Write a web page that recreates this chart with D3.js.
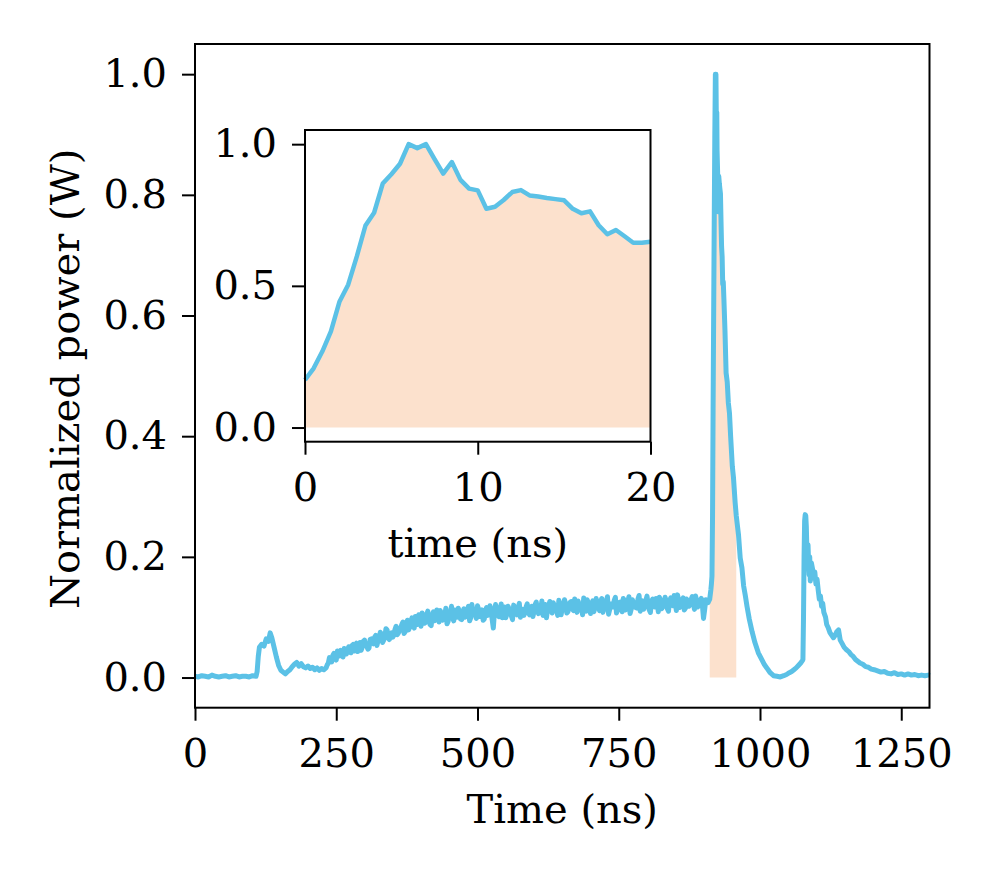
<!DOCTYPE html>
<html>
<head>
<meta charset="utf-8">
<script src="https://cdn.jsdelivr.net/npm/d3@7"></script>
<style>
  body { margin: 0; background: #fff; }
  text { font-family: "DejaVu Serif", serif; }
</style>
</head>
<body>
<svg id="chart" width="996" height="879"></svg>
<script>
// ---- data (time in ns, power normalized) ----
var baseStart = 0, baseStep = 6;
var basePower = [0.002, 0.001, 0.003, 0.002, 0.001, 0.004, 0.002, 0.001, 0.002, 0.003,
  0.001, 0.002, 0.003, 0.001, 0.002, 0.002, 0.001, 0.003, 0.002];

var pulseTime = [110, 112, 114, 118, 122, 126, 130, 133, 136, 140, 144, 148, 152, 156, 160,
  164, 168, 172, 176, 180, 184, 188, 192, 196, 200, 204, 208, 212, 216, 220, 224, 228];
var pulsePower = [0.010, 0.035, 0.050, 0.055, 0.052, 0.064, 0.060, 0.074, 0.066, 0.050, 0.034,
  0.020, 0.012, 0.009, 0.006, 0.010, 0.013, 0.018, 0.022, 0.025, 0.019, 0.023, 0.018, 0.016,
  0.019, 0.015, 0.017, 0.013, 0.016, 0.012, 0.015, 0.013];

// slow ramp + noisy plateau, two interleaved sample sets (every 4 ns, offset by 2 ns)
var rampStart = 232, rampStep = 4;
var rampPower = [
  0.016, 0.024, 0.028, 0.037, 0.031, 0.044, 0.036, 0.042, 0.048, 0.039,
  0.051, 0.041, 0.055, 0.047, 0.043, 0.058, 0.050, 0.062, 0.052, 0.049,
  0.064, 0.056, 0.070, 0.061, 0.075, 0.058, 0.068, 0.079, 0.063, 0.074,
  0.070, 0.085, 0.074, 0.081, 0.092, 0.076, 0.095, 0.083, 0.099, 0.082,
  0.094, 0.104, 0.085, 0.100, 0.091, 0.110, 0.088, 0.103, 0.094, 0.112,
  0.092, 0.107, 0.099, 0.115, 0.093, 0.106, 0.098, 0.112, 0.100, 0.109,
  0.096, 0.114, 0.103, 0.118, 0.099, 0.110, 0.104, 0.119, 0.101, 0.112,
  0.097, 0.116, 0.106, 0.113, 0.082, 0.121, 0.104, 0.111, 0.099, 0.117,
  0.105, 0.114, 0.102, 0.120, 0.108, 0.116, 0.100, 0.113, 0.107, 0.122,
  0.104, 0.118, 0.109, 0.125, 0.106, 0.114, 0.103, 0.121, 0.112, 0.126,
  0.107, 0.119, 0.111, 0.128, 0.104, 0.117, 0.122, 0.109, 0.125, 0.113,
  0.130, 0.108, 0.121, 0.115, 0.132, 0.110, 0.124, 0.106, 0.127, 0.117,
  0.123, 0.111, 0.131, 0.114, 0.126, 0.105, 0.122, 0.117, 0.133, 0.112,
  0.125, 0.109, 0.128, 0.119, 0.134, 0.113, 0.124, 0.116, 0.130, 0.110,
  0.127, 0.118, 0.135, 0.112, 0.126, 0.121, 0.131, 0.109, 0.128, 0.117,
  0.133, 0.114, 0.127, 0.120, 0.136, 0.111, 0.129, 0.119, 0.132, 0.115,
  0.128, 0.121, 0.134, 0.113, 0.127, 0.122, 0.131, 0.098, 0.129, 0.124];
var rampStartB = 234;
var rampPowerB = [
  0.021, 0.033, 0.026, 0.040, 0.029, 0.038, 0.045, 0.034, 0.047, 0.043,
  0.046, 0.053, 0.044, 0.057, 0.051, 0.045, 0.060, 0.054, 0.047, 0.063,
  0.058, 0.067, 0.053, 0.066, 0.072, 0.062, 0.081, 0.065, 0.071, 0.067,
  0.080, 0.071, 0.078, 0.088, 0.073, 0.089, 0.079, 0.092, 0.086, 0.101,
  0.088, 0.096, 0.107, 0.090, 0.104, 0.097, 0.086, 0.109, 0.099, 0.105,
  0.111, 0.095, 0.102, 0.089, 0.108, 0.118, 0.094, 0.106, 0.115, 0.097,
  0.109, 0.100, 0.112, 0.094, 0.121, 0.106, 0.098, 0.113, 0.108, 0.095,
  0.111, 0.103, 0.119, 0.096, 0.108, 0.114, 0.101, 0.122, 0.106, 0.099,
  0.118, 0.107, 0.096, 0.115, 0.104, 0.123, 0.110, 0.103, 0.117, 0.108,
  0.113, 0.101, 0.121, 0.110, 0.116, 0.127, 0.108, 0.099, 0.119, 0.114,
  0.124, 0.112, 0.103, 0.121, 0.115, 0.129, 0.107, 0.118, 0.126, 0.111,
  0.118, 0.127, 0.112, 0.104, 0.122, 0.129, 0.115, 0.120, 0.109, 0.131,
  0.116, 0.126, 0.108, 0.121, 0.134, 0.113, 0.119, 0.128, 0.107, 0.124,
  0.118, 0.131, 0.112, 0.125, 0.106, 0.129, 0.121, 0.115, 0.136, 0.119,
  0.113, 0.128, 0.122, 0.108, 0.130, 0.117, 0.125, 0.133, 0.114, 0.121,
  0.127, 0.110, 0.132, 0.119, 0.124, 0.137, 0.116, 0.126, 0.112, 0.130,
  0.118, 0.129, 0.123, 0.135, 0.117, 0.128, 0.120, 0.112, 0.126];

var peakTime = [911, 913, 914, 915, 916, 917, 918, 919, 920, 921, 922, 923, 923.5, 924, 925,
  925.5, 926, 927, 928, 929, 930, 931, 932, 933, 934, 935, 936, 938, 940, 942, 944, 946, 948,
  951, 953, 956, 958, 960, 962, 965, 968, 971, 974, 977, 981, 986, 991, 997, 1003, 1008, 1012,
  1018, 1024, 1030, 1036, 1042, 1047, 1052, 1056, 1060, 1064, 1068, 1072, 1075];
var peakPower = [0.130, 0.145, 0.155, 0.168, 0.268, 0.445, 0.604, 0.758, 0.894, 1.000, 1.000,
  0.896, 0.937, 0.874, 0.837, 0.772, 0.779, 0.831, 0.819, 0.810, 0.802, 0.756, 0.714, 0.697,
  0.652, 0.656, 0.630, 0.575, 0.505, 0.490, 0.455, 0.438, 0.400, 0.350, 0.332, 0.290, 0.268,
  0.252, 0.236, 0.198, 0.182, 0.152, 0.136, 0.118, 0.097, 0.076, 0.058, 0.041, 0.030, 0.021,
  0.016, 0.008, 0.003, 0.002, 0.001, 0.003, 0.005, 0.008, 0.010, 0.013, 0.016, 0.020, 0.024, 0.028];

var tailTime = [1076, 1077, 1078, 1079, 1080, 1081, 1082, 1083, 1085, 1086, 1087, 1088, 1089,
  1091, 1093, 1095, 1097, 1099, 1101, 1103, 1105, 1107, 1109, 1111, 1113, 1116, 1118, 1121,
  1124, 1127, 1130, 1133, 1136, 1139, 1142, 1145, 1149, 1153, 1157, 1161, 1165, 1169, 1173,
  1177, 1182, 1187, 1192, 1197, 1202, 1208, 1214, 1220, 1226, 1232, 1238, 1244, 1250, 1256,
  1262, 1268, 1274, 1280, 1286, 1292, 1298, 1300];
var tailPower = [0.030, 0.100, 0.200, 0.260, 0.270, 0.268, 0.250, 0.210, 0.220, 0.190, 0.170,
  0.200, 0.160, 0.190, 0.180, 0.165, 0.175, 0.155, 0.163, 0.145, 0.130, 0.135, 0.118, 0.123,
  0.108, 0.100, 0.088, 0.082, 0.074, 0.070, 0.066, 0.070, 0.076, 0.079, 0.062, 0.057, 0.050,
  0.046, 0.043, 0.038, 0.035, 0.030, 0.027, 0.024, 0.022, 0.018, 0.017, 0.014, 0.013, 0.011,
  0.009, 0.010, 0.007, 0.006, 0.008, 0.005, 0.006, 0.004, 0.006, 0.004, 0.005, 0.003, 0.004,
  0.003, 0.004, 0.003];

// zoom on the main pulse (inset), 0.5 ns samples
var insetTime = d3.range(0, 20.001, 0.5);
var insetPower = [0.168, 0.209, 0.268, 0.339, 0.445, 0.504, 0.604, 0.713, 0.758, 0.861, 0.894,
  0.931, 1.000, 0.986, 1.000, 0.947, 0.896, 0.937, 0.874, 0.843, 0.837, 0.772, 0.779, 0.803,
  0.831, 0.838, 0.819, 0.815, 0.810, 0.806, 0.802, 0.772, 0.756, 0.763, 0.714, 0.682, 0.697,
  0.675, 0.652, 0.652, 0.656];

var fillStart = 911, fillEnd = 958;
var xTicks = [0, 250, 500, 750, 1000, 1250];
var yTicks = [0.0, 0.2, 0.4, 0.6, 0.8, 1.0];
var insetXTicks = [0, 10, 20];
var insetYTicks = [0.0, 0.5, 1.0];

var lineColor = "#5bc1e6", fillColor = "#fce1cd";

// assemble trace
var trace = [];
basePower.forEach(function(v, i){ trace.push([baseStart + i * baseStep, v]) });
pulseTime.forEach(function(t, i){ trace.push([t, pulsePower[i]]) });
rampPower.forEach(function(v, i){ trace.push([rampStart + i * rampStep, v]) });
rampPowerB.forEach(function(v, i){ trace.push([rampStartB + i * rampStep, v]) });
peakTime.forEach(function(t, i){ trace.push([t, peakPower[i]]) });
tailTime.forEach(function(t, i){ trace.push([t, tailPower[i]]) });
trace.sort(function(a, b){ return a[0] - b[0] });
var inset = insetTime.map(function(t, i){ return [t, insetPower[i]] });

var svg = d3.select("#chart");
var fontSize = 40;

// ---- main axes ----
var m = {left: 195, right: 929.5, top: 44, bottom: 707.7};
var x = d3.scaleLinear().domain([0, 1300]).range([m.left, m.right]);
var y = d3.scaleLinear().domain([-0.05, 1.05]).range([m.bottom, m.top]);

var main = svg.append("g");
main.append("path")
  .datum(trace.filter(function(d){ return d[0] >= fillStart && d[0] <= fillEnd }))
  .attr("fill", fillColor)
  .attr("d", d3.area().x(function(d){ return x(d[0]) }).y0(y(0)).y1(function(d){ return y(d[1]) }));

main.append("path")
  .datum(trace)
  .attr("fill", "none")
  .attr("stroke", lineColor)
  .attr("stroke-width", 5)
  .attr("stroke-linejoin", "round")
  .attr("d", d3.line().x(function(d){ return x(d[0]) }).y(function(d){ return y(d[1]) }));

function styleAxis(g){
  g.select(".domain").remove();
  g.selectAll(".tick line").attr("stroke", "#000").attr("stroke-width", 2);
  g.selectAll(".tick text").attr("fill", "#000")
    .style("font-family", "'DejaVu Serif', serif").style("font-size", fontSize + "px");
}

main.append("g")
  .attr("transform", "translate(0," + m.bottom + ")")
  .call(d3.axisBottom(x).tickValues(xTicks).tickSize(13).tickPadding(18).tickFormat(d3.format("d")))
  .call(styleAxis);
main.append("g")
  .attr("transform", "translate(" + m.left + ",0)")
  .call(d3.axisLeft(y).tickValues(yTicks).tickSize(13).tickPadding(15).tickFormat(d3.format(".1f")))
  .call(styleAxis);

main.append("rect")
  .attr("x", m.left).attr("y", m.top)
  .attr("width", m.right - m.left).attr("height", m.bottom - m.top)
  .attr("fill", "none").attr("stroke", "#000").attr("stroke-width", 2);

main.append("text")
  .attr("x", (m.left + m.right) / 2).attr("y", 823)
  .attr("text-anchor", "middle")
  .style("font-size", fontSize + "px")
  .text("Time (ns)");
main.append("text")
  .attr("transform", "translate(79," + ((m.top + m.bottom) / 2 + 3) + ") rotate(-90)")
  .attr("text-anchor", "middle")
  .style("font-size", fontSize + "px")
  .text("Normalized power (W)");

// ---- inset ----
var n = {left: 305, right: 650.5, top: 130, bottom: 441.7};
var xi = d3.scaleLinear().domain([0, 20]).range([n.left, n.right]);
var yi = d3.scaleLinear().domain([-0.05, 1.05]).range([n.bottom, n.top]);

var ins = svg.append("g");
ins.append("rect")
  .attr("x", n.left).attr("y", n.top)
  .attr("width", n.right - n.left).attr("height", n.bottom - n.top)
  .attr("fill", "#fff");
ins.append("path")
  .datum(inset)
  .attr("fill", fillColor)
  .attr("d", d3.area().x(function(d){ return xi(d[0]) }).y0(yi(0)).y1(function(d){ return yi(d[1]) }));
ins.append("path")
  .datum(inset)
  .attr("fill", "none")
  .attr("stroke", lineColor)
  .attr("stroke-width", 4.5)
  .attr("stroke-linejoin", "round")
  .attr("d", d3.line().x(function(d){ return xi(d[0]) }).y(function(d){ return yi(d[1]) }));

ins.append("g")
  .attr("transform", "translate(0," + n.bottom + ")")
  .call(d3.axisBottom(xi).tickValues(insetXTicks).tickSize(13).tickPadding(18).tickFormat(d3.format("d")))
  .call(styleAxis);
ins.append("g")
  .attr("transform", "translate(" + n.left + ",0)")
  .call(d3.axisLeft(yi).tickValues(insetYTicks).tickSize(13).tickPadding(15).tickFormat(d3.format(".1f")))
  .call(styleAxis);
ins.append("rect")
  .attr("x", n.left).attr("y", n.top)
  .attr("width", n.right - n.left).attr("height", n.bottom - n.top)
  .attr("fill", "none").attr("stroke", "#000").attr("stroke-width", 2);

ins.append("text")
  .attr("x", (n.left + n.right) / 2).attr("y", 557)
  .attr("text-anchor", "middle")
  .style("font-size", fontSize + "px")
  .text("time (ns)");
</script>
</body>
</html>
